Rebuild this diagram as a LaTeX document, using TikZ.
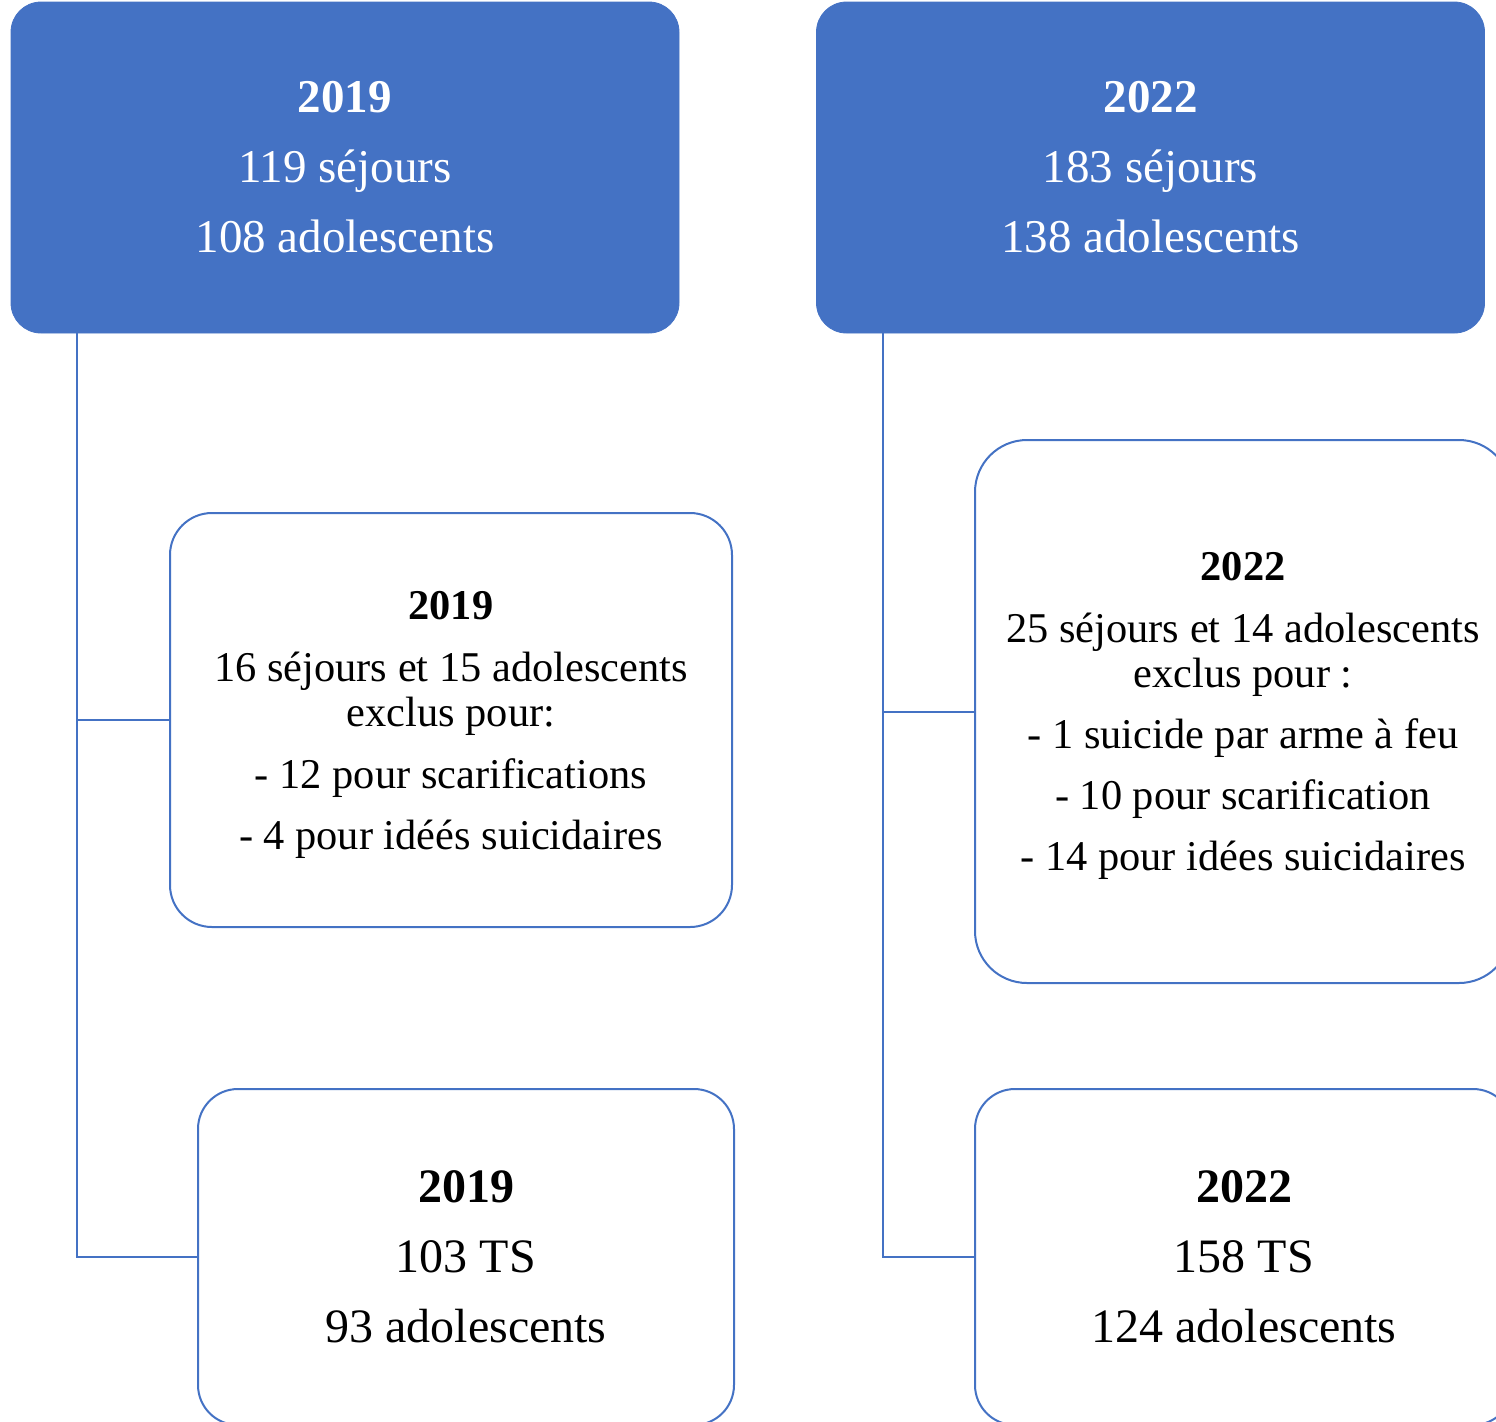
\documentclass[tikz,border=0pt]{standalone}
\usepackage{fontspec}
\setmainfont{Liberation Serif}
\usetikzlibrary{positioning}
\definecolor{boxblue}{HTML}{4472C4}
\tikzset{
    x=0.5pt, y=-0.5pt, % one unit is one pixel of the sketch, y going down
    topbox/.style={rectangle, rounded corners=15pt, fill=boxblue, draw=boxblue, text=white, align=center, inner sep=0pt, minimum width=334pt, minimum height=165.5pt, font=\fontsize{23.5}{35}\selectfont}, % the two years on top
    subbox/.style={rectangle, draw=boxblue, line width=1pt, fill=white, align=center, inner sep=0pt}, % the boxes hanging below
    exclfont/.style={font=\fontsize{21.2}{22.5}\selectfont}, % long texts of exclusions
    tsfont/.style={font=\fontsize{24}{35}\selectfont}, % final counts
    link/.style={draw=boxblue, line width=1pt}, % the tree lines
}
\newcommand{\headstrut}{\rule{0pt}{18.5pt}} % pushes the exclusion texts a bit lower

\begin{document}
\begin{tikzpicture}
    \useasboundingbox (0,0) rectangle (1496,1421);
    % years
    \node[topbox] (top19) at (345,167.5) {\textbf{2019}\\119 séjours\\108 adolescents};
    \node[topbox] (top22) at (1150.5,167.5) {\textbf{2022}\\183 séjours\\138 adolescents};
    % exclusions
    \node[subbox, exclfont, rounded corners=21pt, minimum width=281pt, minimum height=207pt] (excl19) at (451,720)
        {\headstrut\textbf{2019}\\[8.5pt]16 séjours et 15 adolescents\\exclus pour:\\[8.5pt]- 12 pour scarifications\\[8pt]- 4 pour idéés suicidaires};
    \node[subbox, exclfont, rounded corners=26pt, minimum width=268pt, minimum height=271.5pt] (excl22) at (1243,711.5)
        {\headstrut\textbf{2022}\\[8.5pt]25 séjours et 14 adolescents\\exclus pour :\\[8pt]- 1 suicide par arme à feu\\[8pt]- 10 pour scarification\\[8pt]- 14 pour idées suicidaires};
    % remaining TS
    \node[subbox, tsfont, rounded corners=20pt, minimum width=268pt, minimum height=168pt] (ts19) at (466,1257) {\textbf{2019}\\103 TS\\93 adolescents};
    \node[subbox, tsfont, rounded corners=20pt, minimum width=269pt, minimum height=168pt] (ts22) at (1244,1257) {\textbf{2022}\\158 TS\\124 adolescents};
    % tree lines
    \draw[link] ([xshift=33pt]top19.south west) |- (excl19.west);
    \draw[link] ([xshift=33pt]top19.south west) |- (ts19.west);
    \draw[link] ([xshift=33.5pt]top22.south west) |- (excl22.west);
    \draw[link] ([xshift=33.5pt]top22.south west) |- (ts22.west);
\end{tikzpicture}
\end{document}
